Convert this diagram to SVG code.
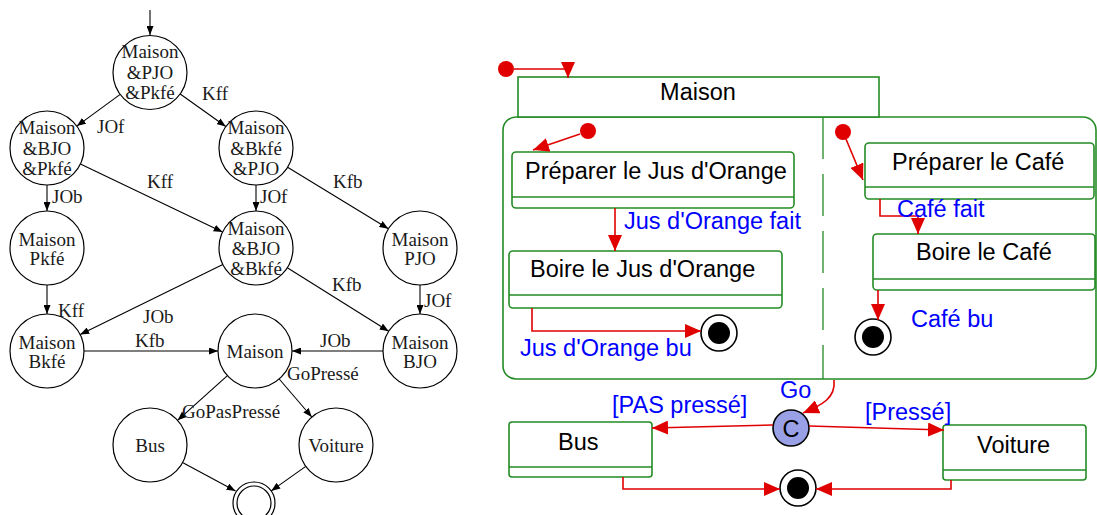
<svg xmlns="http://www.w3.org/2000/svg" width="1097" height="515" viewBox="0 0 1097 515">
<style>
.st{fill:#fff;stroke:#000;stroke-width:1.2}
.lt{font-family:"Liberation Serif",serif;font-size:19px;fill:#1a1a1a}
.le{fill:none;stroke:#000;stroke-width:1.1}
.box{fill:#fff;stroke:#238b23;stroke-width:1.6}
.sep{stroke:#238b23;stroke-width:1.6}
.rt{font-family:"Liberation Sans",Arial,sans-serif;font-size:23.5px;fill:#000}
.bt{font-family:"Liberation Sans",Arial,sans-serif;font-size:23.5px;fill:#0000ff}
.re{fill:none;stroke:#e00000;stroke-width:1.6}
.dot{fill:#e00000}
.fo{fill:#fff;stroke:#000;stroke-width:1.6}
.fi{fill:#000}
</style>
<defs>
<marker id="ab" viewBox="0 0 9 7" refX="9" refY="3.5" markerWidth="9" markerHeight="7" markerUnits="userSpaceOnUse" orient="auto"><path d="M0,0 L9,3.5 L0,7 z" fill="#000"/></marker>
<marker id="ar" viewBox="0 0 16 14" refX="16" refY="7" markerWidth="16" markerHeight="14" markerUnits="userSpaceOnUse" orient="auto"><path d="M0,0 L16,7 L0,14 z" fill="#e00000"/></marker>
</defs>

<!-- Left automaton -->
<g id="l-edges">
<path class="le" d="M150,10 V35" marker-end="url(#ab)"/>
<path class="le" d="M120.2,94.4 L76.8,126.1" marker-end="url(#ab)"/>
<path class="le" d="M180.2,94 L225.8,126.5" marker-end="url(#ab)"/>
<path class="le" d="M80.4,164 L222.6,232" marker-end="url(#ab)"/>
<path class="le" d="M47,185 V211" marker-end="url(#ab)"/>
<path class="le" d="M256,185 V211" marker-end="url(#ab)"/>
<path class="le" d="M287.6,167.3 L388.4,228.7" marker-end="url(#ab)"/>
<path class="le" d="M222.8,264.4 L80.2,334.6" marker-end="url(#ab)"/>
<path class="le" d="M287.3,267.7 L388.7,331.3" marker-end="url(#ab)"/>
<path class="le" d="M47,285 V314" marker-end="url(#ab)"/>
<path class="le" d="M420,285 V314" marker-end="url(#ab)"/>
<path class="le" d="M84,351 H218" marker-end="url(#ab)"/>
<path class="le" d="M383,351 H292" marker-end="url(#ab)"/>
<path class="le" d="M227.4,375.7 L177.6,420.3" marker-end="url(#ab)"/>
<path class="le" d="M279.2,379 L311.8,417" marker-end="url(#ab)"/>
<path class="le" d="M182.5,462.6 L235.5,491" marker-end="url(#ab)"/>
<path class="le" d="M305.8,466.4 L271.2,490.9" marker-end="url(#ab)"/>
<text class="lt" x="202" y="100">Kff</text>
<text class="lt" x="97" y="133">JOf</text>
<text class="lt" x="147" y="188">Kff</text>
<text class="lt" x="52" y="203">JOb</text>
<text class="lt" x="260" y="203">JOf</text>
<text class="lt" x="333" y="188">Kfb</text>
<text class="lt" x="332" y="291">Kfb</text>
<text class="lt" x="424" y="307">JOf</text>
<text class="lt" x="58" y="317">Kff</text>
<text class="lt" x="143" y="323">JOb</text>
<text class="lt" x="135" y="347">Kfb</text>
<text class="lt" x="320" y="347">JOb</text>
<text class="lt" x="287" y="380">GoPressé</text>
<text class="lt" x="182" y="418">GoPasPressé</text>
</g>
<g id="n-mpjopkfe"><circle class="st" cx="150" cy="72.5" r="37"/><text class="lt" text-anchor="middle" x="150" y="58">Maison</text><text class="lt" text-anchor="middle" x="150" y="79">&amp;PJO</text><text class="lt" text-anchor="middle" x="150" y="99">&amp;Pkfé</text></g>
<g id="n-mbjopkfe"><circle class="st" cx="47" cy="148" r="37"/><text class="lt" text-anchor="middle" x="47" y="134">Maison</text><text class="lt" text-anchor="middle" x="47" y="155">&amp;BJO</text><text class="lt" text-anchor="middle" x="47" y="175">&amp;Pkfé</text></g>
<g id="n-mbkfepjo"><circle class="st" cx="256" cy="148" r="37"/><text class="lt" text-anchor="middle" x="256" y="134">Maison</text><text class="lt" text-anchor="middle" x="256" y="155">&amp;Bkfé</text><text class="lt" text-anchor="middle" x="256" y="175">&amp;PJO</text></g>
<g id="n-mpkfe"><circle class="st" cx="47" cy="248" r="37"/><text class="lt" text-anchor="middle" x="47" y="246">Maison</text><text class="lt" text-anchor="middle" x="47" y="265">Pkfé</text></g>
<g id="n-mbjobkfe"><circle class="st" cx="256" cy="248" r="37"/><text class="lt" text-anchor="middle" x="256" y="235">Maison</text><text class="lt" text-anchor="middle" x="256" y="255">&amp;BJO</text><text class="lt" text-anchor="middle" x="256" y="275">&amp;Bkfé</text></g>
<g id="n-mpjo"><circle class="st" cx="420" cy="248" r="37"/><text class="lt" text-anchor="middle" x="420" y="246">Maison</text><text class="lt" text-anchor="middle" x="420" y="265">PJO</text></g>
<g id="n-mbkfe"><circle class="st" cx="47" cy="351" r="37"/><text class="lt" text-anchor="middle" x="47" y="349">Maison</text><text class="lt" text-anchor="middle" x="47" y="368">Bkfé</text></g>
<g id="n-maison"><circle class="st" cx="255" cy="351" r="37"/><text class="lt" text-anchor="middle" x="255" y="358">Maison</text></g>
<g id="n-mbjo"><circle class="st" cx="420" cy="351" r="37"/><text class="lt" text-anchor="middle" x="420" y="349">Maison</text><text class="lt" text-anchor="middle" x="420" y="368">BJO</text></g>
<g id="n-bus"><circle class="st" cx="150" cy="445" r="37"/><text class="lt" text-anchor="middle" x="150" y="452">Bus</text></g>
<g id="n-voiture"><circle class="st" cx="336" cy="445" r="37"/><text class="lt" text-anchor="middle" x="336" y="452">Voiture</text></g>
<g id="n-final"><circle class="st" cx="254" cy="503" r="21"/><circle class="st" cx="254" cy="503" r="17"/></g>

<!-- Right statechart -->
<g id="s-region"><rect class="box" x="503" y="117" width="593" height="262" rx="13"/><line x1="823" y1="117" x2="823" y2="379" stroke="#238b23" stroke-width="1.3" stroke-dasharray="42 15"/></g>
<g id="s-maison"><rect class="box" x="518" y="77" width="361" height="40"/><text class="rt" text-anchor="middle" x="698" y="100">Maison</text></g>
<g id="s-pjo"><rect class="box" x="512" y="152" width="282" height="56" rx="4"/><line class="sep" x1="512" y1="197" x2="794" y2="197"/><text class="rt" x="525" y="179">Préparer le Jus d'Orange</text></g>
<g id="s-bjo"><rect class="box" x="509" y="251" width="273" height="57" rx="4"/><line class="sep" x1="509" y1="295" x2="782" y2="295"/><text class="rt" x="530" y="277">Boire le Jus d'Orange</text></g>
<g id="s-pcafe"><rect class="box" x="865" y="143" width="229" height="56" rx="4"/><line class="sep" x1="865" y1="187" x2="1094" y2="187"/><text class="rt" x="892" y="170">Préparer le Café</text></g>
<g id="s-bcafe"><rect class="box" x="873" y="234" width="222" height="56" rx="4"/><line class="sep" x1="873" y1="279" x2="1095" y2="279"/><text class="rt" x="916" y="260">Boire le Café</text></g>
<g id="s-bus"><rect class="box" x="509" y="422" width="143" height="55" rx="3"/><line class="sep" x1="509" y1="467" x2="652" y2="467"/><text class="rt" x="558" y="450">Bus</text></g>
<g id="s-voiture"><rect class="box" x="943" y="425" width="143" height="55" rx="3"/><line class="sep" x1="943" y1="470" x2="1086" y2="470"/><text class="rt" x="977" y="453">Voiture</text></g>
<g id="s-init0"><circle class="dot" cx="506" cy="69" r="8"/></g>
<g id="s-init1"><circle class="dot" cx="588" cy="131" r="8"/></g>
<g id="s-init2"><circle class="dot" cx="843" cy="132" r="8"/></g>
<g id="s-fin1"><circle class="fo" cx="719" cy="333" r="18"/><circle class="fi" cx="719" cy="333" r="11"/></g>
<g id="s-fin2"><circle class="fo" cx="873" cy="337" r="18"/><circle class="fi" cx="873" cy="337" r="11"/></g>
<g id="s-fin3"><circle class="fo" cx="798" cy="488" r="18"/><circle class="fi" cx="798" cy="488" r="11"/></g>
<g id="s-choice"><circle cx="791" cy="428" r="18" fill="#9aa0e6" stroke="#000" stroke-width="1.6"/><text class="rt" text-anchor="middle" x="791" y="437">C</text></g>

<g id="s-edges">
<path class="re" d="M514,69 H568 M568,62 V78" marker-end="url(#ar)"/>
<path class="re" d="M580,134 L533,150" marker-end="url(#ar)"/>
<path class="re" d="M846,139 L863,180" marker-end="url(#ar)"/>
<path class="re" d="M615,208 V251" marker-end="url(#ar)"/>
<path class="re" d="M532,308 V331 H701" marker-end="url(#ar)"/>
<path class="re" d="M880,199 V216 H918 V234" marker-end="url(#ar)"/>
<path class="re" d="M878,290 V320" marker-end="url(#ar)"/>
<path class="re" d="M834,380 C836,398 822,405 803,413" marker-end="url(#ar)"/>
<path class="re" d="M773,425 L652,428" marker-end="url(#ar)"/>
<path class="re" d="M809,426 L944,430" marker-end="url(#ar)"/>
<path class="re" d="M623,477 V489 H780" marker-end="url(#ar)"/>
<path class="re" d="M951,480 V489 H816" marker-end="url(#ar)"/>
<text class="bt" x="624" y="229">Jus d'Orange fait</text>
<text class="bt" x="520" y="356">Jus d'Orange bu</text>
<text class="bt" x="897" y="217">Café fait</text>
<text class="bt" x="911" y="327">Café bu</text>
<text class="bt" x="780" y="398">Go</text>
<text class="bt" x="612" y="413">[PAS pressé]</text>
<text class="bt" x="865" y="420">[Pressé]</text>
</g>
</svg>
